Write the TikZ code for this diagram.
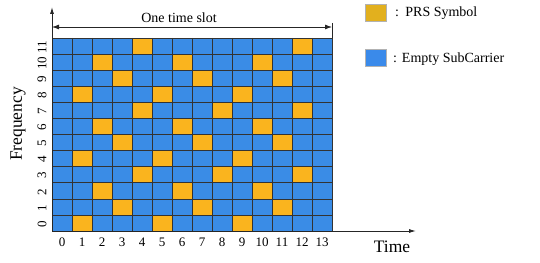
\documentclass[tikz,border=0pt]{standalone}
\usepackage{fontspec}
\setmainfont{Liberation Serif}
\usetikzlibrary{arrows.meta}
\definecolor{cellblue}{HTML}{3A8CE6}
\definecolor{cellorange}{HTML}{FAB41E}
\definecolor{legorange}{HTML}{E2B01E}
\definecolor{legblue}{HTML}{3A8AEA}
\begin{document}
\begin{tikzpicture}[x=1pt,y=-1pt,
  gridline/.style={draw=black!80,line width=0.6pt},
  axisline/.style={draw=black!85,line width=0.9pt},
  tick/.style={font=\fontsize{13}{13}\selectfont,inner sep=0pt},
  rowtick/.style={font=\fontsize{13}{13}\selectfont,inner sep=0pt,rotate=90},
  bigtext/.style={font=\fontsize{17.5}{18}\selectfont,inner sep=0pt},
  legtext/.style={font=\fontsize{14}{14}\selectfont,inner sep=0pt,anchor=base west},
  legbox/.style={minimum width=21pt,minimum height=17pt,inner sep=0pt,draw=black!30,line width=0.3pt}]
\useasboundingbox (0,0) rectangle (540,262);
\def\ch{16.083}
% blue cells
\fill[cellblue] (52,38) rectangle (332,231);
% orange cells
\foreach \c/\r in {4/11,12/11, 2/10,6/10,10/10, 3/9,7/9,11/9, 1/8,5/8,9/8,
  4/7,8/7,12/7, 2/6,6/6,10/6, 3/5,7/5,11/5, 1/4,5/4,9/4,
  4/3,8/3,12/3, 2/2,6/2,10/2, 3/1,7/1,11/1, 1/0,5/0,9/0}
  \fill[cellorange] ({52+20*\c},{231-\ch*(\r+1)}) rectangle ({72+20*\c},{231-\ch*\r});
% grid lines
\foreach \c in {1,...,13} \draw[gridline] ({52+20*\c},38) -- ({52+20*\c},231);
\foreach \r in {0,...,12} \draw[gridline] (52,{231-\ch*\r}) -- (332,{231-\ch*\r});
\draw[gridline] (332,38) -- (332,231);
% axes
\coordinate (origin) at (52,231);
\coordinate (xend) at (416,231);
\coordinate (yend) at (52,7);
\draw[axisline,-{Latex[length=7pt,width=4pt]}] (origin) -- (xend);
\draw[axisline,-{Latex[length=7pt,width=4pt]}] (origin) -- (yend);
% one time slot
\coordinate (slotL) at (52,27);
\coordinate (slotR) at (332,27);
\coordinate (barT) at (332,23);
\coordinate (barB) at (332,38);
\draw[black!85,line width=0.8pt] (barT) -- (barB);
\draw[black!85,line width=0.8pt,{Latex[length=7pt,width=5pt]}-{Latex[length=7pt,width=5pt]}] (slotL) -- (slotR);
\node[font=\fontsize{14}{14}\selectfont,inner sep=0pt] (slot) at (179,18) {One time slot};
% tick labels
\foreach \c in {0,...,13} \node[tick] (col\c) at ({62+20*\c},242.5) {\c};
\foreach \r in {0,...,11} \node[rowtick] (row\r) at (42,{231-\ch*(\r+0.5)+1}) {\r};
\node[bigtext,rotate=90] (freq) at (18,124) {Frequency};
\node[bigtext] (time) at (392,247) {Time};
% legend
\node[legbox,fill=legorange] (legA) at (376,12.5) {};
\node[legtext] (legAt) at (395,17) {:\hspace{0.45em}PRS Symbol};
\node[legbox,fill=legblue] (legB) at (375.5,57.5) {};
\node[legtext] (legBt) at (393,63) {:\hspace{0.35em}Empty SubCarrier};
\end{tikzpicture}
\end{document}
